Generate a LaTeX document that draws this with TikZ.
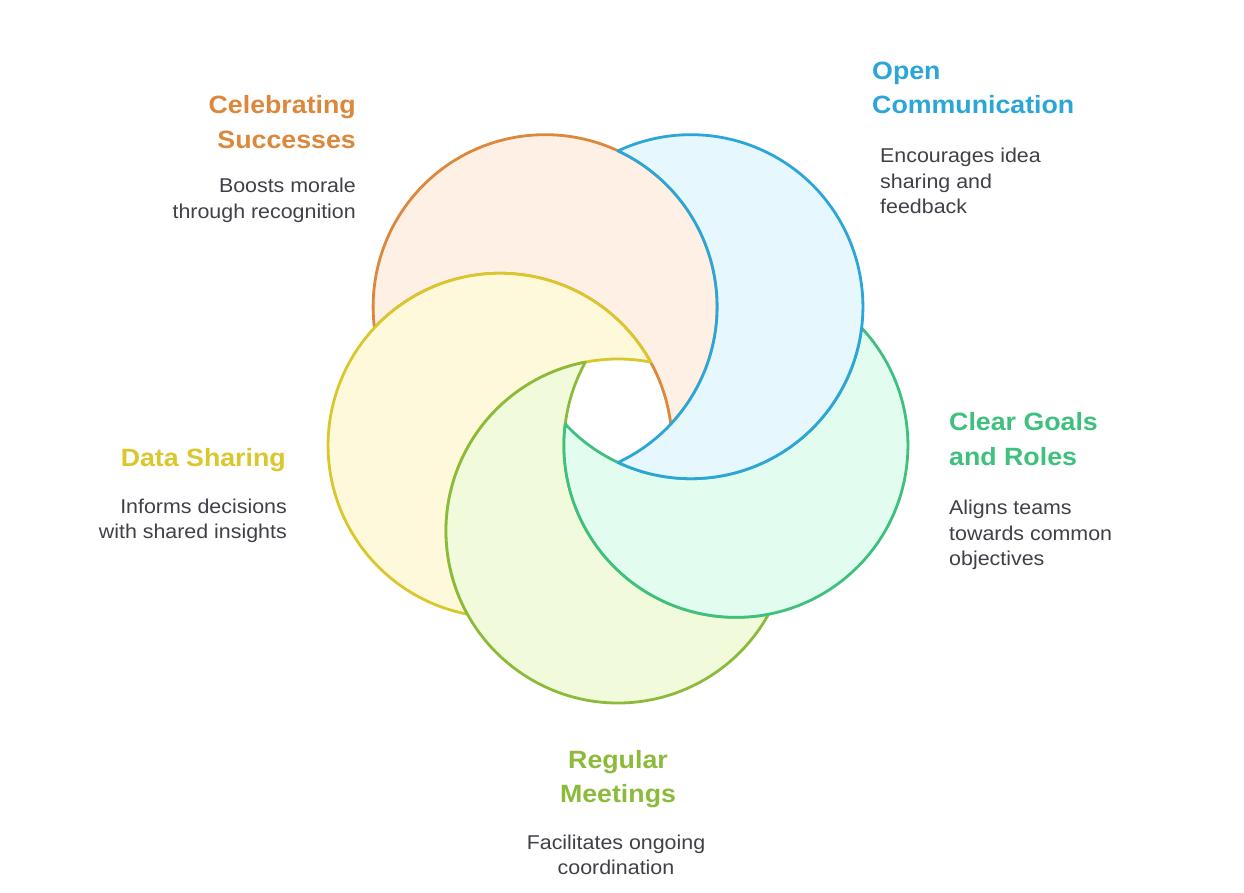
\documentclass[tikz,border=0pt]{standalone}
\usepackage{fontspec}
\setmainfont[FakeStretch=1.07]{Liberation Sans}
\definecolor{cor}{HTML}{DC883C}
\definecolor{corfill}{HTML}{FEF0E4}
\definecolor{cbl}{HTML}{2CA6D6}
\definecolor{cblfill}{HTML}{E6F7FD}
\definecolor{cgr}{HTML}{3EC07E}
\definecolor{cgrfill}{HTML}{E2FCF0}
\definecolor{cli}{HTML}{8CBB3C}
\definecolor{clifill}{HTML}{F2FADC}
\definecolor{cye}{HTML}{D9C72C}
\definecolor{cyefill}{HTML}{FEF9DB}
\definecolor{txt}{HTML}{404048}
\tikzset{
  crescent/.style={line width=2.8pt, line join=round},
  title/.style={inner sep=0pt, font=\fontsize{25}{30}\selectfont\bfseries},
  body/.style={inner sep=0pt, text=txt, font=\fontsize{20}{26}\selectfont},
}
\begin{document}
\begin{tikzpicture}[x=1pt,y=1pt]
\useasboundingbox (0,0) rectangle (1244,893);
\fill[white] (0,0) rectangle (1244,893);
\coordinate (O) at (618,486);
\foreach \name/\ang/\col in {or/126/cor, ye/198/cye, li/270/cli, gr/342/cgr, bl/54/cbl}{
  \pgfmathsetmacro\sa{\ang+190.93}
  \pgfmathsetmacro\ea{\ang+421.07}
  \pgfmathsetmacro\sb{\ang+10.93}
  \pgfmathsetmacro\eb{\ang-118.93}
  \coordinate (c-\name) at ([shift={(\ang:124)}]O);
  \filldraw[crescent, draw=\col, fill=\col fill] (c-\name) ++(\sa:172)
    arc[start angle=\sa, end angle=\ea, radius=172]
    arc[start angle=\sb, end angle=\eb, radius=172] -- cycle;
}
% Celebrating Successes
\node[title, text=cor, anchor=base east] (t-or1) at (356,779.7) {Celebrating};
\node[title, text=cor, anchor=base east] (t-or2) at (356,744.7) {Successes};
\node[body, anchor=base east] (b-or1) at (356,700.3) {Boosts morale};
\node[body, anchor=base east] (b-or2) at (356,674.7) {through recognition};
% Open Communication
\node[title, text=cbl, anchor=base west] (t-bl1) at (872,813.7) {Open};
\node[title, text=cbl, anchor=base west] (t-bl2) at (872,779.7) {Communication};
\node[body, anchor=base west] (b-bl1) at (880,730.3) {Encourages idea};
\node[body, anchor=base west] (b-bl2) at (880,704.7) {sharing and};
\node[body, anchor=base west] (b-bl3) at (880,679) {feedback};
% Clear Goals and Roles
\node[title, text=cgr, anchor=base west] (t-gr1) at (949,462) {Clear Goals};
\node[title, text=cgr, anchor=base west] (t-gr2) at (949,427) {and Roles};
\node[body, anchor=base west] (b-gr1) at (949,378) {Aligns teams};
\node[body, anchor=base west] (b-gr2) at (949,352.3) {towards common};
\node[body, anchor=base west] (b-gr3) at (949,327) {objectives};
% Regular Meetings
\node[title, text=cli, anchor=base] (t-li1) at (618,124.7) {Regular};
\node[title, text=cli, anchor=base] (t-li2) at (618,90.3) {Meetings};
\node[body, anchor=base] (b-li1) at (616,43) {Facilitates ongoing};
\node[body, anchor=base] (b-li2) at (616,18) {coordination};
% Data Sharing
\node[title, text=cye, anchor=base east] (t-ye1) at (286,426.3) {Data Sharing};
\node[body, anchor=base east] (b-ye1) at (287,379.7) {Informs decisions};
\node[body, anchor=base east] (b-ye2) at (287,354.7) {with shared insights};
\end{tikzpicture}
\end{document}
